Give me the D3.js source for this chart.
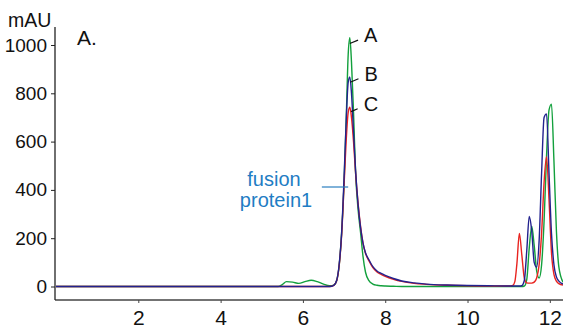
<!DOCTYPE html>
<html>
<head>
<meta charset="utf-8">
<script src="https://cdn.jsdelivr.net/npm/d3@7"></script>
<style>
	body { margin: 0; background: #fff; }
	text { fill: #111; }
</style>
</head>
<body>
<div id="chart"></div>
<script>
// retention time (min), shared by the three traces
var times = [0, 5.4, 5.5, 5.6, 5.75, 5.9, 6.05, 6.2, 6.35, 6.5, 6.65, 6.75, 6.82, 6.88, 6.94, 7.0, 7.05, 7.1, 7.14, 7.18,
	7.23, 7.28, 7.34, 7.4, 7.46, 7.52, 7.6, 7.7, 7.8, 7.9, 8.0, 8.2, 8.4, 8.7, 9.0, 9.5, 10.0, 10.5, 11.0, 11.1,
	11.15, 11.2, 11.26, 11.32, 11.38, 11.44, 11.5, 11.56, 11.62, 11.68, 11.74, 11.8, 11.86, 11.92, 11.98, 12.04, 12.1, 12.16, 12.22, 12.32];

// absorbance (mAU)
var traceA = [0, 0, 8, 20, 18, 13, 20, 26, 20, 10, 3, 6, 25, 85, 220, 430, 680, 960, 1030, 930,
	720, 470, 320, 225, 125, 60, 25, 10, 5, 3, 2, 1, 0, 0, 0, 0, 0, 0, 0, 0,
	0, 0, 0, 0, 2, 30, 160, 250, 170, 65, 35, 90, 270, 540, 730, 755, 520, 230, 80, 18];
var traceB = [0, 0, 0, 0, 0, 0, 0, 0, 0, 0, 0, 5, 25, 90, 220, 450, 680, 845, 868, 800,
	640, 480, 340, 245, 180, 140, 112, 82, 64, 54, 46, 33, 23, 15, 10, 6, 4, 3, 2, 2,
	2, 2, 2, 4, 25, 150, 290, 230, 100, 80, 190, 470, 700, 715, 470, 220, 90, 40, 22, 10];
var traceC = [0, 0, 0, 0, 0, 0, 0, 0, 0, 0, 0, 5, 24, 85, 210, 420, 600, 720, 742, 700,
	600, 470, 345, 250, 180, 138, 108, 78, 60, 50, 42, 30, 21, 13, 9, 5, 3, 2, 2, 5,
	20, 95, 220, 130, 35, 15, 14, 14, 18, 35, 90, 220, 430, 537, 360, 140, 50, 22, 12, 6];

var xTicks = [2, 4, 6, 8, 10, 12];
var yTicks = [0, 200, 400, 600, 800, 1000];

// peak labels: [name, line start t, line start v, line end t, line end v]
var peakLabels = [
	["A", 7.14, 1006, 7.34, 1020],
	["B", 7.15, 846, 7.35, 860],
	["C", 7.17, 724, 7.33, 736]
];

var width = 563, height = 331;

var x = d3.scaleLinear().domain([0, 12.32]).range([56, 563]);
var y = d3.scaleLinear().domain([0, 1000]).range([286.5, 45]);

var svg = d3.select("#chart")
	.append("svg")
	.attr("width", width)
	.attr("height", height)
	.style("font-family", "'Liberation Sans Narrow', 'Liberation Sans', sans-serif");

// axes
var xAxis = d3.axisBottom(x).tickValues(xTicks).tickSize(3).tickPadding(6).tickFormat(d3.format("d"));
var yAxis = d3.axisLeft(y).tickValues(yTicks).tickSize(4).tickPadding(4).tickFormat(d3.format("d"));

var gx = svg.append("g")
	.attr("transform", "translate(0,300)")
	.call(xAxis);
gx.select(".domain").remove();
gx.append("line")
	.attr("x1", 55).attr("x2", 563)
	.attr("stroke", "#444").attr("stroke-width", 1.3);
gx.selectAll(".tick line").attr("stroke", "#444");
gx.selectAll(".tick text")
	.style("font-size", "21px")
	.attr("dy", "0.78em")
	.attr("fill", "#111");

var gy = svg.append("g")
	.attr("transform", "translate(55,0)")
	.call(yAxis);
gy.select(".domain").remove();
gy.append("line")
	.attr("y1", 27).attr("y2", 300)
	.attr("stroke", "#222").attr("stroke-width", 1.3);
gy.selectAll(".tick line").attr("stroke", "#222");
gy.selectAll(".tick text")
	.style("font-size", "19px")
	.attr("fill", "#111");

svg.append("text")
	.attr("x", 8).attr("y", 27)
	.style("font-size", "19.5px")
	.text("mAU");

svg.append("text")
	.attr("x", 77).attr("y", 45)
	.style("font-size", "21px")
	.text("A.");

// traces
var line = d3.line()
	.x(function (d, i) { return x(times[i]); })
	.y(function (d) { return y(d); })
	.curve(d3.curveMonotoneX);

var traces = [
	{ values: traceA, color: "#12a03c" },
	{ values: traceC, color: "#e8231f" },
	{ values: traceB, color: "#22228e" }
];

svg.selectAll(".trace")
	.data(traces)
	.enter()
	.append("path")
	.attr("class", "trace")
	.attr("fill", "none")
	.attr("stroke", function (d) { return d.color; })
	.attr("stroke-width", 1.4)
	.attr("d", function (d) { return line(d.values); });

// A / B / C labels
peakLabels.forEach(function (p) {
	svg.append("line")
		.attr("x1", x(p[1])).attr("y1", y(p[2]))
		.attr("x2", x(p[3])).attr("y2", y(p[4]))
		.attr("stroke", "#111").attr("stroke-width", 1.2);
	svg.append("text")
		.attr("x", x(p[3]) + 6)
		.attr("y", y(p[4]) + 2)
		.style("font-size", "20px")
		.text(p[0]);
});

// fusion protein label
svg.append("line")
	.attr("x1", x(6.46)).attr("x2", x(7.1))
	.attr("y1", y(412)).attr("y2", y(412))
	.attr("stroke", "#2a7fc0").attr("stroke-width", 1.2);

var fp = svg.append("text")
	.attr("text-anchor", "middle")
	.style("font-family", "'Liberation Sans', sans-serif")
	.style("font-size", "20px")
	.style("fill", "#1f7dc4");
fp.append("tspan").attr("x", 274).attr("y", 186).text("fusion");
fp.append("tspan").attr("x", 276).attr("y", 207).text("protein1");
</script>
</body>
</html>
